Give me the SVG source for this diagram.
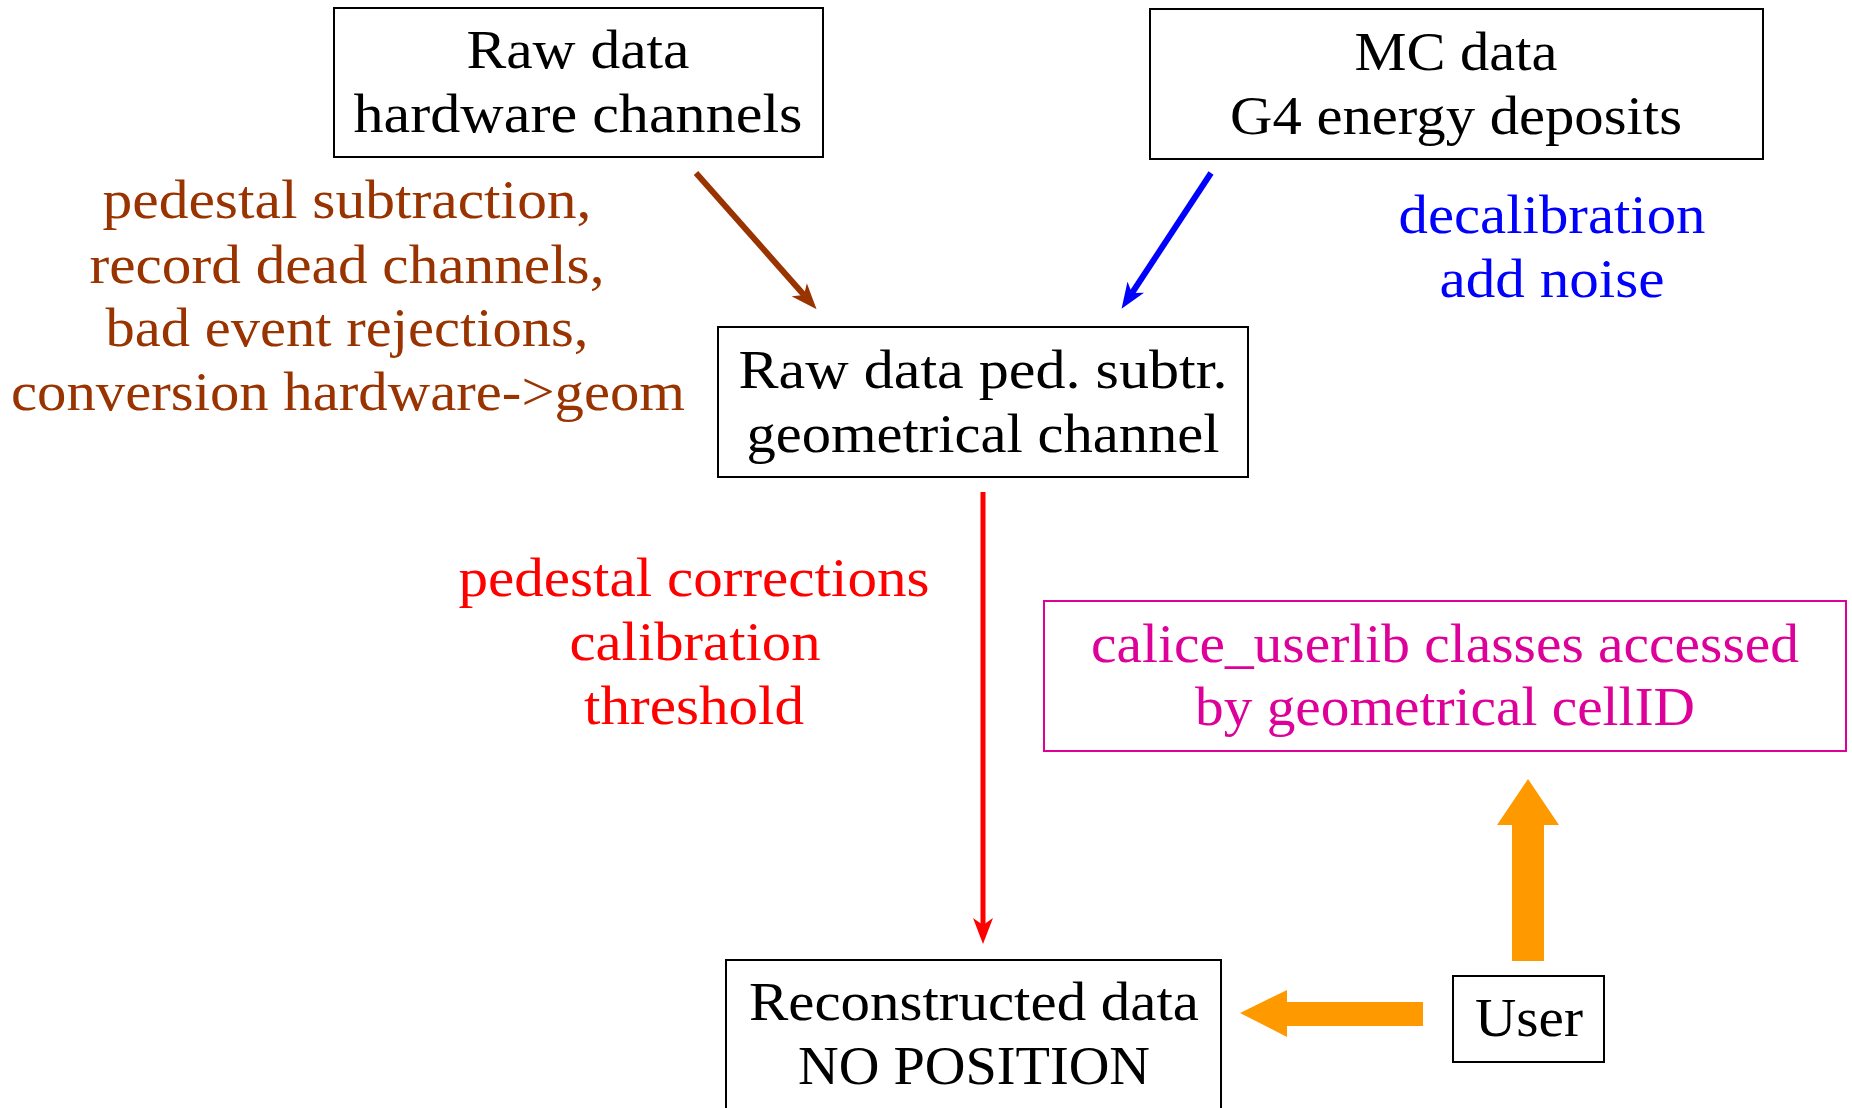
<svg xmlns="http://www.w3.org/2000/svg" width="1852" height="1108" viewBox="0 0 1852 1108">
<defs>
<style>
text{font-family:"Liberation Serif","DejaVu Serif",serif;font-size:55px;text-anchor:middle}
.box{fill:none;stroke:#000;stroke-width:2}
.k{fill:#000}
.br{fill:#993300}
.bl{fill:#0000ff}
.rd{fill:#ff0000}
.mg{fill:#dd0099}
</style>
<marker id="hBr" viewBox="0 0 26 20" refX="7" refY="10" markerWidth="26" markerHeight="20" markerUnits="userSpaceOnUse" orient="auto"><path d="M0,0 L26,10 L0,20 L7,10 z" fill="#993300"/></marker>
<marker id="hBl" viewBox="0 0 26 20" refX="7" refY="10" markerWidth="26" markerHeight="20" markerUnits="userSpaceOnUse" orient="auto"><path d="M0,0 L26,10 L0,20 L7,10 z" fill="#0000ff"/></marker>
<marker id="hRd" viewBox="0 0 26 20" refX="7" refY="10" markerWidth="26" markerHeight="20" markerUnits="userSpaceOnUse" orient="auto"><path d="M0,0 L26,10 L0,20 L7,10 z" fill="#ff0000"/></marker>
</defs>
<rect width="1852" height="1108" fill="#fff"/>

<g id="raw">
<rect class="box" x="334" y="8" width="489" height="149"/>
<text class="k" x="578" y="68" textLength="223" lengthAdjust="spacingAndGlyphs">Raw data</text>
<text class="k" x="578" y="132" textLength="449" lengthAdjust="spacingAndGlyphs">hardware channels</text>
</g>

<g id="mc">
<rect class="box" x="1150" y="9" width="613" height="150"/>
<text class="k" x="1456" y="70" textLength="203" lengthAdjust="spacingAndGlyphs">MC data</text>
<text class="k" x="1456" y="134" textLength="452" lengthAdjust="spacingAndGlyphs">G4 energy deposits</text>
</g>

<g id="ped">
<rect class="box" x="718" y="327" width="530" height="150"/>
<text class="k" x="983" y="388" textLength="489" lengthAdjust="spacingAndGlyphs">Raw data ped. subtr.</text>
<text class="k" x="983" y="452" textLength="473" lengthAdjust="spacingAndGlyphs">geometrical channel</text>
</g>

<g id="reco">
<rect class="box" x="726" y="960" width="495" height="170"/>
<text class="k" x="974" y="1020" textLength="450" lengthAdjust="spacingAndGlyphs">Reconstructed data</text>
<text class="k" x="974" y="1084" textLength="352" lengthAdjust="spacingAndGlyphs">NO POSITION</text>
</g>

<g id="userlib">
<rect x="1044" y="601" width="802" height="150" fill="none" stroke="#dd0099" stroke-width="2"/>
<text class="mg" x="1445" y="662" textLength="708" lengthAdjust="spacingAndGlyphs">calice_userlib classes accessed</text>
<text class="mg" x="1445" y="725" textLength="500" lengthAdjust="spacingAndGlyphs">by geometrical cellID</text>
</g>

<g id="user">
<rect class="box" x="1453" y="976" width="151" height="86"/>
<text class="k" x="1529" y="1036" textLength="108" lengthAdjust="spacingAndGlyphs">User</text>
</g>

<g id="labels">
<text class="br" x="347" y="218" textLength="489" lengthAdjust="spacingAndGlyphs">pedestal subtraction,</text>
<text class="br" x="347" y="283" textLength="515" lengthAdjust="spacingAndGlyphs">record dead channels,</text>
<text class="br" x="347" y="346" textLength="483" lengthAdjust="spacingAndGlyphs">bad event rejections,</text>
<text class="br" x="348" y="410" textLength="674" lengthAdjust="spacingAndGlyphs">conversion hardware-&gt;geom</text>
<text class="bl" x="1552" y="233" textLength="307" lengthAdjust="spacingAndGlyphs">decalibration</text>
<text class="bl" x="1552" y="297" textLength="225" lengthAdjust="spacingAndGlyphs">add noise</text>
<text class="rd" x="694" y="596" textLength="471" lengthAdjust="spacingAndGlyphs">pedestal corrections</text>
<text class="rd" x="695" y="660" textLength="251" lengthAdjust="spacingAndGlyphs">calibration</text>
<text class="rd" x="694" y="724" textLength="220" lengthAdjust="spacingAndGlyphs">threshold</text>
</g>

<g id="connectors">
<line x1="696" y1="173" x2="804" y2="295" stroke="#993300" stroke-width="6" marker-end="url(#hBr)"/>
<line x1="1211" y1="173" x2="1132" y2="293" stroke="#0000ff" stroke-width="6" marker-end="url(#hBl)"/>
<line x1="983" y1="492" x2="983" y2="925" stroke="#ff0000" stroke-width="5" marker-end="url(#hRd)"/>
<path d="M1544,961 L1544,825 L1559,825 L1528,779 L1497,825 L1512,825 L1512,961 z" fill="#ff9900"/>
<path d="M1423,1002 L1287,1002 L1287,990 L1240,1013 L1287,1037 L1287,1026 L1423,1026 z" fill="#ff9900"/>
</g>
</svg>
